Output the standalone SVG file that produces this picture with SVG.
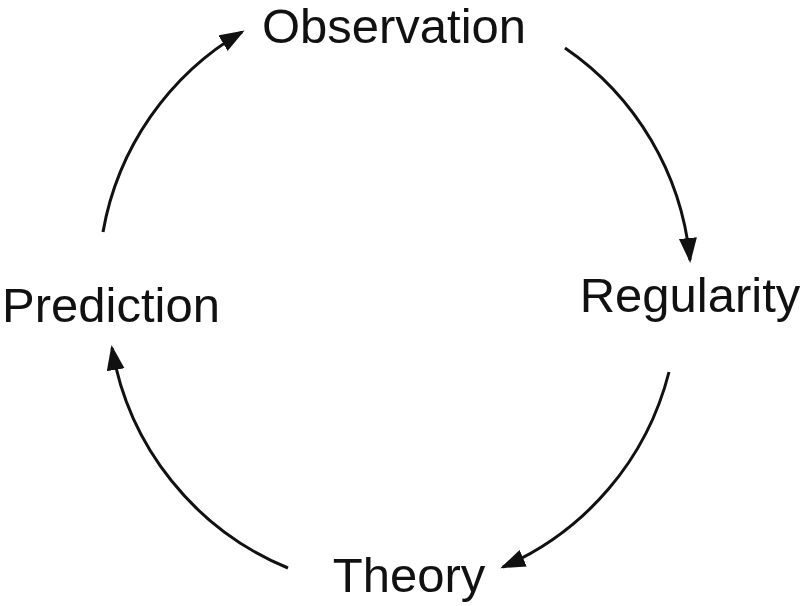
<svg xmlns="http://www.w3.org/2000/svg" width="803" height="606" viewBox="0 0 803 606">
<style>
.lbl{font-family:"Liberation Sans",Arial,sans-serif;font-size:49px;fill:#111;text-anchor:middle}
.arc{fill:none;stroke:#111;stroke-width:3;marker-end:url(#ah)}
</style>
<defs>
<marker id="ah" markerUnits="userSpaceOnUse" markerWidth="28" markerHeight="20" refX="22" refY="9" orient="auto">
<path d="M0,0 L25,9 L0,18 z" fill="#111"/>
</marker>
</defs>
<rect width="803" height="606" fill="#fff"/>
<g id="connectors">
<path class="arc" d="M103,232 A290,290 0 0 1 242,32"/>
<path class="arc" d="M565,48 A290,290 0 0 1 690,260"/>
<path class="arc" d="M669,372 A290,290 0 0 1 503,567"/>
<path class="arc" d="M288,568 A290,290 0 0 1 112,348"/>
</g>
<g id="observation"><text class="lbl" x="394" y="43">Observation</text></g>
<g id="regularity"><text class="lbl" x="690" y="312">Regularity</text></g>
<g id="theory"><text class="lbl" x="409" y="592">Theory</text></g>
<g id="prediction"><text class="lbl" x="111" y="322">Prediction</text></g>
</svg>
